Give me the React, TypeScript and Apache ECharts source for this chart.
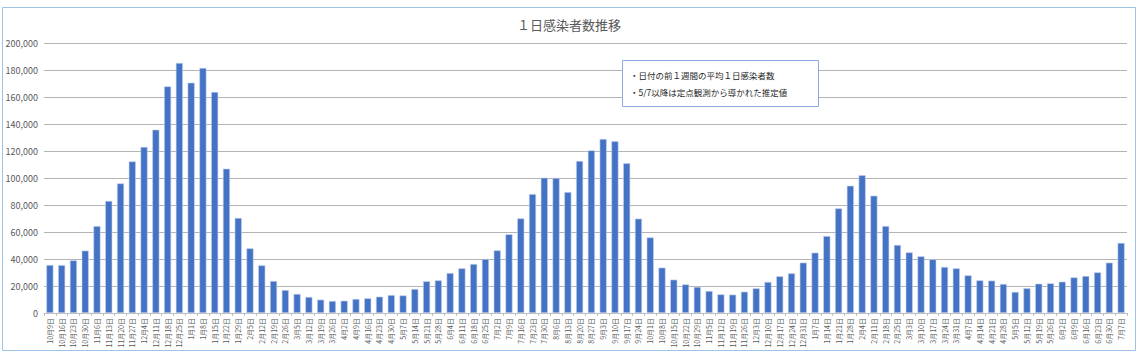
import React, { useEffect, useRef } from "react";
import * as echarts from "echarts";

const categories: string[] = [
  "10月9日", "10月16日", "10月23日", "10月30日", "11月6日", "11月13日", "11月20日", "11月27日",
  "12月4日", "12月11日", "12月18日", "12月25日", "1月1日", "1月8日", "1月15日", "1月22日", "1月29日",
  "2月5日", "2月12日", "2月19日", "2月26日", "3月5日", "3月12日", "3月19日", "3月26日",
  "4月2日", "4月9日", "4月16日", "4月23日", "4月30日", "5月7日", "5月14日", "5月21日", "5月28日",
  "6月4日", "6月11日", "6月18日", "6月25日", "7月2日", "7月9日", "7月16日", "7月23日", "7月30日",
  "8月6日", "8月13日", "8月20日", "8月27日", "9月3日", "9月10日", "9月17日", "9月24日",
  "10月1日", "10月8日", "10月15日", "10月22日", "10月29日", "11月5日", "11月12日", "11月19日", "11月26日",
  "12月3日", "12月10日", "12月17日", "12月24日", "12月31日", "1月7日", "1月14日", "1月21日", "1月28日",
  "2月4日", "2月11日", "2月18日", "2月25日", "3月3日", "3月10日", "3月17日", "3月24日", "3月31日",
  "4月7日", "4月14日", "4月21日", "4月28日", "5月5日", "5月12日", "5月19日", "5月26日",
  "6月2日", "6月9日", "6月16日", "6月23日", "6月30日", "7月7日",
];

const infections: number[] = [
  35600, 35500, 39000, 46200, 64400, 83000, 96000, 112300, 123000, 135800, 167900, 185200,
  170600, 181500, 163700, 106900, 70400, 47900, 35300, 23700, 17000, 14100, 11900, 9900,
  8900, 9100, 10400, 10900, 12100, 13300, 13000, 17800, 23500, 24200, 29600, 33100, 36300,
  40000, 46400, 58300, 70100, 88100, 100200, 100000, 89600, 112600, 120500, 128900, 127200,
  110900, 69900, 56000, 33600, 24700, 21200, 19300, 16300, 13800, 13600, 15800, 18300, 23000,
  27200, 29400, 37300, 44700, 57000, 77500, 94300, 102000, 86900, 64400, 50400, 44900, 42000,
  39800, 34100, 33100, 27900, 24200, 24000, 21500, 15600, 18300, 21700, 22000, 23200, 26400,
  27400, 30100, 37300, 51900,
];

const titleText = "１日感染者数推移";
const noteLines: string[] = [
  "・日付の前１週間の平均１日感染者数",
  "・5/7以降は定点観測から導かれた推定値",
];

const FONT = "'Noto Sans CJK JP', 'Noto Sans', sans-serif";

export default function App() {
  const ref = useRef<HTMLDivElement>(null);
  useEffect(() => {
    if (!ref.current) return;
    const chart = echarts.init(ref.current, undefined, { renderer: "svg" });
    chart.setOption({
      animation: false,
      backgroundColor: "#ffffff",
      title: {
        text: titleText,
        left: "center",
        top: 13,
        textStyle: { fontFamily: FONT, fontSize: 13, fontWeight: "normal", color: "#595959" },
      },
      grid: { left: 44, right: 11, top: 43, bottom: 43, containLabel: false },
      xAxis: {
        type: "category",
        data: categories,
        axisLine: { lineStyle: { color: "#bfbfbf" } },
        axisTick: { show: true, interval: 0, length: 3, lineStyle: { color: "#bfbfbf" } },
        axisLabel: {
          interval: 0,
          rotate: 90,
          fontSize: 7,
          fontFamily: FONT,
          color: "#595959",
          margin: 5,
        },
      },
      yAxis: {
        type: "value",
        min: 0,
        max: 200000,
        interval: 20000,
        axisLine: { show: false },
        axisTick: { show: false },
        splitLine: { lineStyle: { color: "#b4b4b4", width: 1 } },
        axisLabel: {
          fontSize: 9,
          fontFamily: FONT,
          color: "#595959",
          margin: 6,
          formatter: (v: number) => v.toLocaleString("en-US"),
        },
      },
      series: [
        {
          type: "bar",
          data: infections,
          barCategoryGap: "40%",
          itemStyle: { color: "#4472C4", borderColor: "#c5d4ee", borderWidth: 0.6 },
        },
      ],
      graphic: [
        {
          type: "rect",
          shape: { x: 2.5, y: 7.5, width: 1133, height: 343 },
          style: { fill: "none", stroke: "#9DC3E6", lineWidth: 1 },
          silent: true,
        },
        {
          type: "rect",
          shape: { x: 622.5, y: 60.5, width: 196, height: 46 },
          style: { fill: "#ffffff", stroke: "#8FAADC", lineWidth: 1 },
          z: 100,
        },
        {
          type: "text",
          x: 630,
          y: 66,
          z: 101,
          style: {
            text: noteLines.join("\n"),
            fontFamily: FONT,
            fontSize: 8.5,
            lineHeight: 17,
            fill: "#262626",
          },
        },
      ],
    });
    return () => chart.dispose();
  }, []);
  return (
    <div
      ref={ref}
      style={{ position: "fixed", left: 0, top: 0, width: 1138, height: 356 }}
    />
  );
}
